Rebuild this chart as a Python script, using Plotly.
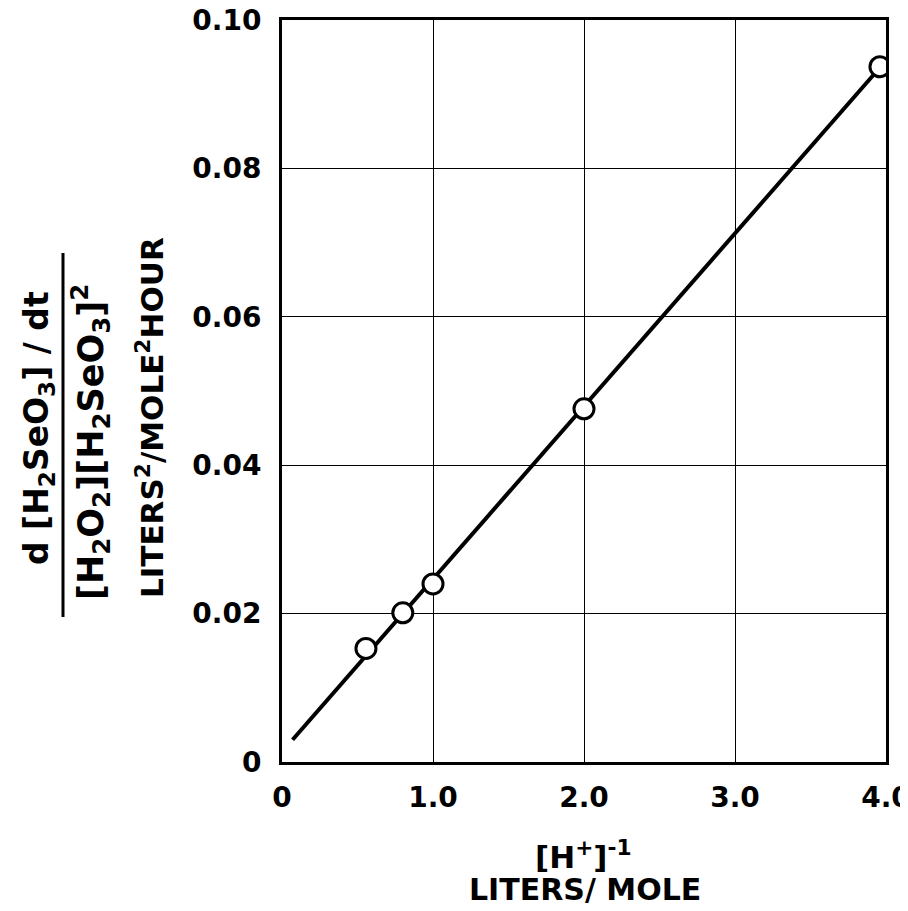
import plotly.graph_objects as go

# Data
inv_h = [0.556, 0.80, 1.0, 2.0, 3.96]          # [H+]^-1, liters/mole
rate = [0.0153, 0.0201, 0.0240, 0.0476, 0.0937]  # normalised rate
fit_x = [0.07, 3.96]
fit_y = [0.003, 0.0936]

x_ticks = [0, 1.0, 2.0, 3.0, 4.0]
x_ticklabels = ["0", "1.0", "2.0", "3.0", "4.0"]
y_ticks = [0, 0.02, 0.04, 0.06, 0.08, 0.10]
y_ticklabels = ["0", "0.02", "0.04", "0.06", "0.08", "0.10"]

FONT = "DejaVu Sans"

fig = go.Figure()
fig.add_trace(go.Scatter(x=fit_x, y=fit_y, mode="lines",
                         line=dict(color="black", width=4), showlegend=False))
fig.add_trace(go.Scatter(x=inv_h, y=rate, mode="markers",
                         marker=dict(symbol="circle", size=20, color="white",
                                     line=dict(color="black", width=3)),
                         showlegend=False))

# The page body adds an 8px margin, so the figure is sized to fit inside the window
OFF = 8
W, H = 908 - OFF, 911 - OFF
PL, PR, PT, PB = 282, 886, 20, 762          # plot box in screen pixels
L, T = PL - OFF, PT - OFF
R, B = W - (PR - OFF), H - (PB - OFF)
pw, ph = PR - PL, PB - PT

def px(xs):
    return (xs - PL) / pw

def py(ys):
    return (PB - ys) / ph

tickfont = dict(size=28, family=FONT, weight="bold")

fig.update_layout(
    width=W, height=H,
    margin=dict(l=L, r=R, t=T, b=B),
    paper_bgcolor="white", plot_bgcolor="white",
    font=dict(family=FONT, color="black", size=24),
    xaxis=dict(range=[0, 4.0], tickvals=x_ticks, ticktext=x_ticklabels,
               showgrid=True, gridcolor="black", gridwidth=1,
               showline=True, linecolor="black", linewidth=3, mirror=True,
               ticks="", zeroline=False, tickfont=tickfont,
               automargin=False, ticklabelstandoff=8, ticklabeloverflow="allow"),
    yaxis=dict(range=[0, 0.10], tickvals=y_ticks, ticktext=y_ticklabels,
               showgrid=True, gridcolor="black", gridwidth=1,
               showline=True, linecolor="black", linewidth=3, mirror=True,
               ticks="", zeroline=False, tickfont=tickfont,
               automargin=False, ticklabelstandoff=12, ticklabeloverflow="allow"),
)

ann = [
    dict(text="d [H<sub>2</sub>SeO<sub>3</sub>] / dt", x=px(38), y=py(428), size=33),
    dict(text="[H<sub>2</sub>O<sub>2</sub>][H<sub>2</sub>SeO<sub>3</sub>]<sup>2</sup>", x=px(90), y=py(442), size=35),
    dict(text="LITERS<sup>2</sup>/MOLE<sup>2</sup>HOUR", x=px(150), y=py(418), size=31),
]
for a in ann:
    fig.add_annotation(text=a["text"], x=a["x"], y=a["y"], xref="paper", yref="paper",
                       textangle=-90, showarrow=False,
                       font=dict(size=a["size"], family=FONT, weight="bold"),
                       xanchor="center", yanchor="middle")

fig.add_shape(type="line", xref="paper", yref="paper",
              x0=px(63), x1=px(63), y0=py(617), y1=py(253),
              line=dict(color="black", width=3))

fig.add_annotation(text="[H<sup>+</sup>]<sup>-1</sup>", x=px(583), y=py(855),
                   xref="paper", yref="paper", showarrow=False,
                   font=dict(size=31, family=FONT, weight="bold"),
                   xanchor="center", yanchor="middle")
fig.add_annotation(text="LITERS/ MOLE", x=px(585), y=py(889),
                   xref="paper", yref="paper", showarrow=False,
                   font=dict(size=30, family=FONT, weight="bold"),
                   xanchor="center", yanchor="middle")

fig.write_html("out.html")
